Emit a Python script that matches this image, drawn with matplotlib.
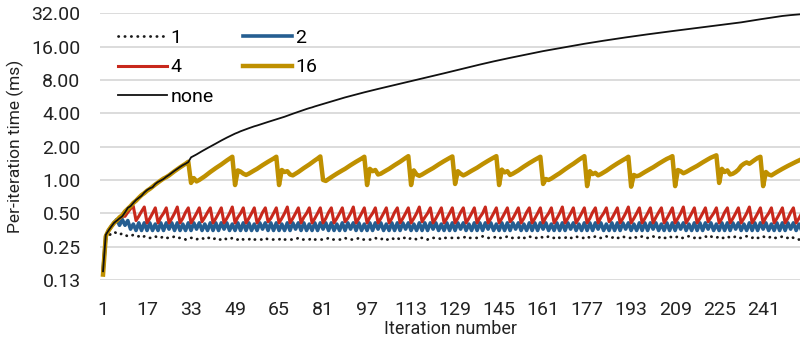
import numpy as np
import matplotlib
matplotlib.use('agg')
import matplotlib.pyplot as plt

plt.rcParams['font.family'] = ['Roboto', 'DejaVu Sans']

# iteration numbers (category axis)
iters = np.arange(1, 257)
xticks = [1, 17, 33, 49, 65, 81, 97, 113, 129, 145, 161, 177, 193, 209, 225, 241]
yticks = [0.125, 0.25, 0.5, 1, 2, 4, 8, 16, 32]
ylabels = ['0.13', '0.25', '0.50', '1.00', '2.00', '4.00', '8.00', '16.00', '32.00']

# per-iteration time (ms)
t1 = [0.15, 0.29, 0.31, 0.33, 0.34, 0.33, 0.32, 0.33, 0.32, 0.31, 0.31, 0.32, 0.31, 0.31, 0.30, 0.31,
      0.31, 0.30, 0.30, 0.31, 0.30, 0.30, 0.31, 0.30, 0.30, 0.30, 0.31, 0.30, 0.30, 0.30, 0.29, 0.30,
      0.30, 0.30, 0.29, 0.30, 0.30, 0.29, 0.30, 0.30, 0.29, 0.30, 0.29, 0.29, 0.30, 0.29, 0.29, 0.30,
      0.29, 0.29, 0.30, 0.29, 0.29, 0.29, 0.30, 0.29, 0.29, 0.29, 0.29, 0.30, 0.29, 0.29, 0.29, 0.29,
      0.29, 0.30, 0.29, 0.29, 0.29, 0.29, 0.29, 0.30, 0.29, 0.29, 0.29, 0.29, 0.30, 0.29, 0.29, 0.29,
      0.29, 0.29, 0.30, 0.29, 0.29, 0.29, 0.29, 0.29, 0.30, 0.29, 0.29, 0.29, 0.29, 0.30, 0.29, 0.29,
      0.29, 0.29, 0.29, 0.30, 0.29, 0.29, 0.30, 0.29, 0.29, 0.30, 0.29, 0.30, 0.29, 0.30, 0.30, 0.29,
      0.30, 0.30, 0.29, 0.30, 0.30, 0.30, 0.29, 0.30, 0.30, 0.30, 0.30, 0.29, 0.30, 0.30, 0.30, 0.30,
      0.30, 0.30, 0.30, 0.30, 0.31, 0.30, 0.30, 0.30, 0.30, 0.30, 0.31, 0.30, 0.30, 0.30, 0.30, 0.31,
      0.30, 0.30, 0.30, 0.31, 0.30, 0.30, 0.30, 0.30, 0.31, 0.30, 0.30, 0.31, 0.30, 0.30, 0.30, 0.31,
      0.30, 0.30, 0.31, 0.30, 0.30, 0.31, 0.30, 0.30, 0.30, 0.31, 0.30, 0.30, 0.31, 0.30, 0.30, 0.30,
      0.31, 0.30, 0.30, 0.31, 0.30, 0.30, 0.30, 0.31, 0.30, 0.30, 0.31, 0.30, 0.30, 0.31, 0.30, 0.30,
      0.30, 0.31, 0.30, 0.30, 0.31, 0.30, 0.30, 0.31, 0.31, 0.30, 0.30, 0.31, 0.30, 0.30, 0.31, 0.30,
      0.30, 0.31, 0.30, 0.30, 0.31, 0.31, 0.30, 0.30, 0.31, 0.30, 0.30, 0.31, 0.30, 0.31, 0.30, 0.30,
      0.31, 0.30, 0.30, 0.31, 0.30, 0.30, 0.31, 0.30, 0.30, 0.31, 0.31, 0.30, 0.30, 0.31, 0.30, 0.30,
      0.31, 0.30, 0.30, 0.31, 0.30, 0.30, 0.30, 0.31, 0.30, 0.30, 0.31, 0.30, 0.30, 0.29, 0.29, 0.29]

t2 = [0.15, 0.31, 0.35, 0.38, 0.41, 0.44, 0.39, 0.44, 0.39, 0.43, 0.36, 0.40, 0.35, 0.41, 0.35, 0.41,
      0.35, 0.41, 0.35, 0.40, 0.35, 0.41, 0.35, 0.41, 0.36, 0.41, 0.35, 0.41, 0.35, 0.40, 0.35, 0.41,
      0.35, 0.41, 0.36, 0.41, 0.35, 0.40, 0.35, 0.41, 0.35, 0.41, 0.35, 0.41, 0.36, 0.41, 0.35, 0.40,
      0.35, 0.41, 0.35, 0.41, 0.35, 0.41, 0.35, 0.40, 0.35, 0.41, 0.36, 0.41, 0.35, 0.41, 0.35, 0.41,
      0.35, 0.40, 0.35, 0.41, 0.35, 0.41, 0.36, 0.41, 0.35, 0.41, 0.35, 0.40, 0.35, 0.41, 0.35, 0.41,
      0.36, 0.41, 0.35, 0.41, 0.35, 0.40, 0.35, 0.41, 0.35, 0.41, 0.36, 0.41, 0.35, 0.41, 0.35, 0.40,
      0.35, 0.41, 0.35, 0.41, 0.36, 0.41, 0.35, 0.40, 0.35, 0.41, 0.35, 0.41, 0.35, 0.41, 0.36, 0.41,
      0.35, 0.40, 0.35, 0.41, 0.35, 0.41, 0.35, 0.41, 0.36, 0.41, 0.35, 0.40, 0.35, 0.41, 0.35, 0.41,
      0.35, 0.41, 0.36, 0.41, 0.35, 0.40, 0.35, 0.41, 0.35, 0.41, 0.35, 0.41, 0.36, 0.41, 0.35, 0.40,
      0.35, 0.41, 0.35, 0.41, 0.35, 0.41, 0.36, 0.41, 0.35, 0.40, 0.35, 0.41, 0.35, 0.41, 0.35, 0.41,
      0.36, 0.41, 0.35, 0.40, 0.35, 0.41, 0.35, 0.41, 0.35, 0.41, 0.36, 0.41, 0.35, 0.40, 0.35, 0.41,
      0.35, 0.41, 0.35, 0.41, 0.36, 0.41, 0.35, 0.40, 0.35, 0.41, 0.35, 0.41, 0.35, 0.41, 0.36, 0.41,
      0.35, 0.40, 0.35, 0.41, 0.35, 0.41, 0.35, 0.41, 0.36, 0.41, 0.35, 0.40, 0.35, 0.41, 0.35, 0.41,
      0.35, 0.41, 0.36, 0.41, 0.35, 0.40, 0.35, 0.41, 0.35, 0.41, 0.35, 0.41, 0.36, 0.41, 0.35, 0.40,
      0.35, 0.41, 0.35, 0.41, 0.35, 0.41, 0.36, 0.41, 0.35, 0.40, 0.35, 0.41, 0.35, 0.41, 0.35, 0.41,
      0.36, 0.41, 0.35, 0.40, 0.35, 0.41, 0.35, 0.41, 0.35, 0.41, 0.36, 0.41, 0.35, 0.40, 0.35, 0.41]

t4 = [0.15, 0.31, 0.35, 0.38, 0.41, 0.43, 0.45, 0.47, 0.47, 0.51, 0.55, 0.58, 0.43, 0.47, 0.52, 0.57,
      0.41, 0.45, 0.50, 0.56, 0.41, 0.46, 0.50, 0.56, 0.41, 0.45, 0.50, 0.57, 0.41, 0.45, 0.51, 0.56,
      0.41, 0.45, 0.50, 0.56, 0.42, 0.46, 0.51, 0.56, 0.41, 0.45, 0.50, 0.56, 0.41, 0.45, 0.50, 0.57,
      0.41, 0.46, 0.50, 0.56, 0.41, 0.45, 0.50, 0.56, 0.41, 0.45, 0.51, 0.56, 0.42, 0.45, 0.50, 0.56,
      0.41, 0.45, 0.50, 0.57, 0.41, 0.45, 0.50, 0.56, 0.41, 0.46, 0.50, 0.56, 0.41, 0.45, 0.50, 0.56,
      0.41, 0.45, 0.51, 0.56, 0.41, 0.45, 0.50, 0.56, 0.42, 0.45, 0.50, 0.57, 0.41, 0.45, 0.50, 0.56,
      0.41, 0.46, 0.50, 0.56, 0.41, 0.45, 0.50, 0.56, 0.41, 0.45, 0.51, 0.56, 0.41, 0.45, 0.50, 0.56,
      0.41, 0.45, 0.50, 0.57, 0.42, 0.46, 0.50, 0.56, 0.41, 0.45, 0.50, 0.56, 0.41, 0.45, 0.50, 0.56,
      0.41, 0.45, 0.51, 0.56, 0.41, 0.45, 0.50, 0.56, 0.41, 0.46, 0.50, 0.57, 0.41, 0.45, 0.50, 0.56,
      0.41, 0.45, 0.50, 0.56, 0.42, 0.45, 0.50, 0.56, 0.41, 0.45, 0.51, 0.56, 0.41, 0.45, 0.50, 0.56,
      0.41, 0.46, 0.50, 0.56, 0.41, 0.45, 0.50, 0.57, 0.41, 0.45, 0.50, 0.56, 0.41, 0.45, 0.50, 0.56,
      0.41, 0.45, 0.51, 0.56, 0.41, 0.46, 0.50, 0.56, 0.42, 0.45, 0.50, 0.56, 0.41, 0.45, 0.50, 0.57,
      0.41, 0.45, 0.50, 0.56, 0.41, 0.45, 0.50, 0.56, 0.41, 0.46, 0.51, 0.56, 0.41, 0.45, 0.50, 0.56,
      0.41, 0.45, 0.50, 0.57, 0.41, 0.45, 0.50, 0.56, 0.41, 0.45, 0.50, 0.56, 0.42, 0.46, 0.50, 0.56,
      0.41, 0.45, 0.51, 0.56, 0.41, 0.45, 0.50, 0.56, 0.41, 0.45, 0.50, 0.57, 0.41, 0.45, 0.50, 0.56,
      0.41, 0.46, 0.50, 0.56, 0.41, 0.45, 0.50, 0.56, 0.41, 0.45, 0.51, 0.56, 0.41, 0.45, 0.50, 0.56]

t16 = [0.14, 0.31, 0.35, 0.38, 0.41, 0.43, 0.46, 0.48, 0.52, 0.55, 0.58, 0.62, 0.65, 0.69, 0.73, 0.76,
       0.80, 0.83, 0.87, 0.91, 0.95, 0.99, 1.03, 1.06, 1.10, 1.15, 1.20, 1.25, 1.30, 1.35, 1.40, 1.46,
       0.94, 1.04, 0.97, 1.00, 1.04, 1.08, 1.13, 1.18, 1.23, 1.28, 1.33, 1.38, 1.44, 1.50, 1.56, 1.62,
       0.90, 1.22, 1.19, 1.14, 1.11, 1.14, 1.18, 1.22, 1.26, 1.31, 1.36, 1.41, 1.46, 1.51, 1.56, 1.62,
       0.90, 1.23, 1.18, 1.20, 1.12, 1.10, 1.14, 1.18, 1.23, 1.28, 1.33, 1.38, 1.44, 1.50, 1.56, 1.63,
       1.00, 0.98, 1.02, 1.06, 1.10, 1.14, 1.18, 1.22, 1.26, 1.31, 1.36, 1.41, 1.46, 1.51, 1.56, 1.62,
       0.90, 1.26, 1.20, 1.23, 1.12, 1.14, 1.18, 1.22, 1.26, 1.31, 1.36, 1.41, 1.46, 1.52, 1.58, 1.64,
       0.90, 1.22, 1.12, 1.09, 1.12, 1.16, 1.20, 1.24, 1.28, 1.33, 1.38, 1.43, 1.48, 1.53, 1.58, 1.63,
       0.92, 1.20, 1.14, 1.10, 1.13, 1.17, 1.21, 1.25, 1.29, 1.34, 1.39, 1.44, 1.49, 1.54, 1.59, 1.64,
       0.90, 1.24, 1.17, 1.20, 1.11, 1.14, 1.18, 1.22, 1.27, 1.32, 1.37, 1.42, 1.47, 1.52, 1.57, 1.62,
       0.92, 1.02, 1.00, 1.03, 1.07, 1.11, 1.15, 1.20, 1.25, 1.30, 1.35, 1.40, 1.46, 1.52, 1.58, 1.64,
       0.88, 1.20, 1.13, 1.16, 1.10, 1.13, 1.17, 1.21, 1.26, 1.31, 1.36, 1.41, 1.46, 1.51, 1.56, 1.62,
       0.87, 1.11, 1.08, 1.10, 1.14, 1.18, 1.22, 1.26, 1.30, 1.35, 1.40, 1.45, 1.50, 1.55, 1.59, 1.64,
       0.88, 1.23, 1.20, 1.15, 1.18, 1.22, 1.26, 1.30, 1.34, 1.39, 1.44, 1.49, 1.54, 1.59, 1.63, 1.67,
       0.94, 1.26, 1.18, 1.22, 1.12, 1.14, 1.18, 1.24, 1.34, 1.40, 1.44, 1.40, 1.46, 1.52, 1.58, 1.62,
       0.88, 1.18, 1.12, 1.10, 1.14, 1.18, 1.22, 1.26, 1.30, 1.34, 1.38, 1.42, 1.46, 1.50, 1.54, 1.58]

tnone = [0.15, 0.32, 0.35, 0.38, 0.41, 0.43, 0.45, 0.47, 0.51, 0.56, 0.58, 0.62, 0.66, 0.69, 0.72, 0.77,
         0.81, 0.84, 0.86, 0.92, 0.96, 0.99, 1.02, 1.07, 1.11, 1.16, 1.21, 1.26, 1.31, 1.36, 1.40, 1.45,
         1.60, 1.65, 1.70, 1.76, 1.82, 1.88, 1.94, 2.00, 2.06, 2.13, 2.20, 2.27, 2.34, 2.41, 2.48, 2.55,
         2.62, 2.68, 2.75, 2.81, 2.87, 2.93, 2.99, 3.05, 3.10, 3.16, 3.22, 3.28, 3.34, 3.40, 3.46, 3.52,
         3.58, 3.65, 3.72, 3.80, 3.88, 3.96, 4.04, 4.12, 4.20, 4.28, 4.37, 4.45, 4.52, 4.61, 4.69, 4.78,
         4.86, 4.95, 5.03, 5.12, 5.20, 5.29, 5.38, 5.47, 5.56, 5.64, 5.73, 5.82, 5.91, 6.00, 6.09, 6.18,
         6.27, 6.36, 6.45, 6.54, 6.63, 6.72, 6.82, 6.91, 7.01, 7.10, 7.20, 7.30, 7.40, 7.50, 7.60, 7.70,
         7.80, 7.90, 8.01, 8.12, 8.23, 8.34, 8.46, 8.58, 8.70, 8.82, 8.94, 9.06, 9.18, 9.31, 9.44, 9.57,
         9.70, 9.84, 9.98, 10.12, 10.26, 10.40, 10.55, 10.70, 10.85, 11.00, 11.15, 11.30, 11.45, 11.60, 11.75, 11.90,
         12.05, 12.20, 12.35, 12.50, 12.65, 12.80, 12.96, 13.12, 13.28, 13.44, 13.60, 13.76, 13.92, 14.08, 14.24, 14.40,
         14.55, 14.70, 14.86, 15.02, 15.18, 15.34, 15.50, 15.66, 15.82, 15.98, 16.14, 16.30, 16.46, 16.62, 16.78, 16.94,
         17.10, 17.26, 17.42, 17.58, 17.74, 17.90, 18.06, 18.22, 18.38, 18.54, 18.70, 18.86, 19.02, 19.18, 19.34, 19.50,
         19.66, 19.82, 19.98, 20.14, 20.30, 20.46, 20.62, 20.78, 20.94, 21.10, 21.26, 21.42, 21.58, 21.74, 21.90, 22.06,
         22.22, 22.39, 22.56, 22.73, 22.90, 23.07, 23.24, 23.41, 23.58, 23.75, 23.92, 24.09, 24.26, 24.43, 24.60, 24.77,
         24.95, 25.13, 25.31, 25.49, 25.67, 25.85, 26.03, 26.21, 26.45, 26.70, 26.95, 27.20, 27.45, 27.70, 27.95, 28.20,
         28.45, 28.70, 28.95, 29.20, 29.45, 29.70, 29.95, 30.20, 30.40, 30.60, 30.75, 30.90, 31.05, 31.20, 31.35, 31.50]

fig = plt.figure(figsize=(8, 3.47), dpi=100)
ax = fig.add_axes([0.125, 0.193, 0.875, 0.769])

l1, = ax.plot(iters, t1, color='#1a1a1a', lw=2.0, ls=(0, (0.1, 2.2)),
              dash_capstyle='round', label='1')
l2, = ax.plot(iters, t2, color='#255e91', lw=2.6, label='2')
l4, = ax.plot(iters, t4, color='#c8281c', lw=2.2, label='4')
l16, = ax.plot(iters, t16, color='#bf9000', lw=3.2, label='16')
ln, = ax.plot(iters, tnone, color='#111111', lw=1.3, label='none')

ax.set_yscale('log', base=2)
ax.set_ylim(0.125, 32)
ax.set_yticks(yticks)
ax.set_yticklabels(ylabels)
ax.minorticks_off()
ax.set_xlim(-0.1, 254.4)
ax.set_xticks(xticks)
ax.set_xticklabels([str(v) for v in xticks])

ax.yaxis.grid(True, color='#d9d9d9', lw=1.3)
ax.set_axisbelow(True)
for s in ax.spines.values():
    s.set_visible(False)
ax.tick_params(axis='both', length=0, labelsize=14, colors='#222222')
ax.tick_params(axis='y', pad=14)
ax.tick_params(axis='x', pad=15)

ax.set_xlabel('Iteration number', fontsize=13, color='#222222', labelpad=1)
ax.set_ylabel('Per-iteration time (ms)', fontsize=12.5, color='#222222')
ax.yaxis.set_label_coords(-0.108, 0.5)

ax.legend([l1, l4, ln, l2, l16], ['1', '4', 'none', '2', '16'], ncol=2,
          loc='upper left', bbox_to_anchor=(0.012, 0.978), frameon=False,
          fontsize=14, handlelength=2.5, handletextpad=0.2, columnspacing=1.5,
          labelspacing=0.6, borderpad=0)

fig.savefig('out.png', dpi=100)
